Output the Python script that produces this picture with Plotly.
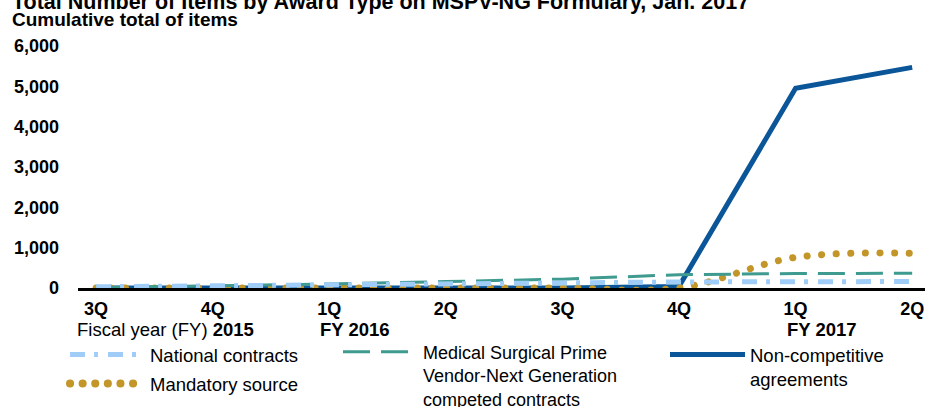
import plotly.graph_objects as go

# ---- data ----
quarters = ["3Q", "4Q", "1Q", "2Q", "3Q", "4Q", "1Q", "2Q"]
fiscal_years = ["2015", "FY 2016", "FY 2017"]
national = [30, 60, 90, 120, 135, 150, 155, 160]
mandatory = [0, 0, 0, 0, 0, 0, 760, 860]
medsurg = [10, 50, 100, 160, 220, 330, 360, 365]
noncomp = [0, 0, 0, 0, 0, 40, 4950, 5470]
y_ticks = [0, 1000, 2000, 3000, 4000, 5000, 6000]

x_idx = list(range(len(quarters)))
FONT = "Liberation Sans, Arial, sans-serif"

fig = go.Figure()
fig.add_trace(go.Scatter(x=x_idx, y=noncomp, mode="lines", name="Non-competitive<br>agreements",
                         line=dict(color="#0b5699", width=5), cliponaxis=False, legend="legend4"))
fig.add_trace(go.Scatter(x=x_idx, y=mandatory, mode="lines", name="Mandatory source",
                         line=dict(color="#c3962a", width=7, dash="0.1px,14.5px", shape="spline"),
                         cliponaxis=False, legend="legend2"))
fig.add_trace(go.Scatter(x=x_idx, y=medsurg, mode="lines",
                         name="Medical Surgical Prime<br>Vendor-Next Generation<br>competed contracts",
                         line=dict(color="#3f9a8f", width=3, dash="27px,11px"), cliponaxis=False,
                         legend="legend3"))
fig.add_trace(go.Scatter(x=x_idx, y=national, mode="lines", name="National contracts",
                         line=dict(color="#9fcdf7", width=5, dash="15px,9px,4px,10px"), cliponaxis=False,
                         legend="legend"))

W, H = 935, 407
def leg(xp, yp, fs=18.5):
    return dict(xref="container", yref="container", x=xp / W, y=1 - yp / H,
                xanchor="left", yanchor="top", bgcolor="rgba(0,0,0,0)", borderwidth=0,
                font=dict(family=FONT, size=fs, color="#000"), itemwidth=75, valign="top",
                itemclick=False, itemdoubleclick=False)

fig.update_layout(
    width=W, height=H,
    margin=dict(l=78, r=10, t=46, b=119, autoexpand=False),
    plot_bgcolor="white", paper_bgcolor="white",
    font=dict(family=FONT, size=18, color="#000"),
    showlegend=True,
    legend=leg(65, 336),
    legend2=leg(65, 365),
    legend3=leg(338, 333.5, 18),
    legend4=leg(665, 336),
    xaxis=dict(range=[-0.155, 7.11], tickmode="array", tickvals=x_idx, ticktext=quarters,
               showgrid=False, zeroline=False, showline=True, linecolor="#000", linewidth=2.5,
               ticks="", tickfont=dict(family=FONT, size=18, weight="bold"), ticklabelstandoff=3,
               fixedrange=True, automargin=False),
    yaxis=dict(range=[0, 6000], tickmode="array", tickvals=y_ticks,
               ticktext=[f"{v:,}" for v in y_ticks], showgrid=False, zeroline=False,
               showline=False, ticks="", tickfont=dict(family=FONT, size=18, weight="bold"),
               ticklabelstandoff=18, fixedrange=True, automargin=False),
)

pr = 288.0
def py(p):
    return (pr - p) / 242.0

annos = [
    dict(text="<b>Total Number of Items by Award Type on MSPV-NG Formulary, Jan. 2017</b>",
         xref="paper", yref="paper", x=-68 / 847, y=py(2), xanchor="left", yanchor="middle",
         size=21.5),
    dict(text="<b>Cumulative total of items</b>", xref="paper", yref="paper",
         x=-68 / 847, y=py(19), xanchor="left", yanchor="middle", size=19),
    dict(text="Fiscal year (FY) <b>" + fiscal_years[0] + "</b>", xref="paper", yref="paper",
         x=-3 / 847, y=py(329), xanchor="left", yanchor="middle", size=18.5),
    dict(text="<b>" + fiscal_years[1] + "</b>", xref="x", yref="paper", x=2, xshift=-11,
         y=py(329), xanchor="left", yanchor="middle", size=18.5),
    dict(text="<b>" + fiscal_years[2] + "</b>", xref="x", yref="paper", x=6, xshift=-11,
         y=py(329), xanchor="left", yanchor="middle", size=18.5),
]
for a in annos:
    s = a.pop("size")
    a.update(showarrow=False, font=dict(family=FONT, size=s, color="#000"))
fig.update_layout(annotations=annos)

post = """
document.body.style.margin = '0';
document.body.style.overflow = 'hidden';
var gd = document.getElementById('{plot_id}');
function fixDots(){
  document.querySelectorAll('path').forEach(function(p){
    var d = p.style.strokeDasharray || '';
    if (d.indexOf('0.1') === 0) {
      p.style.strokeLinecap = 'round';
      if (p.closest('.legendlines') || p.closest('.legendpoints') || p.closest('.groups')) {
        p.style.strokeWidth = '8px';
        p.style.strokeDasharray = '0.1px,12.5px';
      }
    }
  });
}
fixDots();
gd.on('plotly_afterplot', fixDots);
"""
fig.write_html("out.html", post_script=post, config={"displayModeBar": False})
